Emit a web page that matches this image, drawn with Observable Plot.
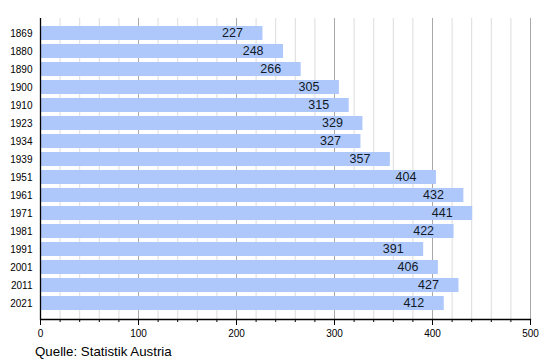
<!DOCTYPE html>
<html><head><meta charset="utf-8">
<script src="https://cdn.jsdelivr.net/npm/d3@7"></script>
<script src="https://cdn.jsdelivr.net/npm/@observablehq/plot@0.6"></script>
<style>
body{margin:0;background:#fff;font-family:"Liberation Sans",Arial,sans-serif;}
#cap{font-size:13.3px;line-height:15px;margin:4px 0 0 35px;color:#000;}
</style></head><body>
<div id="chart"></div>
<div id="cap">Quelle: Statistik Austria</div>
<script>
const years = ["1869","1880","1890","1900","1910","1923","1934","1939","1951","1961","1971","1981","1991","2001","2011","2021"];
const values = [227,248,266,305,315,329,327,357,404,432,441,422,391,406,427,412];
const minorTicks = d3.range(0, 501, 20);
const majorTicks = [0,100,200,300,400,500];
const data = years.map((y,i)=>({year:y, value:values[i]}));

const plot = Plot.plot({
  width: 550, height: 340,
  marginLeft: 40, marginRight: 20, marginTop: 18, marginBottom: 21,
  style: {fontFamily: '"Liberation Sans", Arial, sans-serif', background: "#fff"},
  x: {domain: [0, 500]},
  y: {domain: years, paddingInner: 0.2, paddingOuter: 0.1},
  marks: [
    Plot.ruleX(minorTicks.filter(d => d % 100 !== 0), {stroke: "#dcdcdc", strokeWidth: 1}),
    Plot.ruleX(majorTicks.slice(1), {stroke: "#a8a8a8", strokeWidth: 1}),
    Plot.barX(data, {x: "value", y: "year", fill: "#aec8fc"}),
    Plot.text(data, {x: "value", y: "year", text: d => String(d.value), textAnchor: "end", dx: -20, dy: -1, fontSize: 12.5, fill: "#111827"}),
    Plot.axisY({tickSize: 0, tickPadding: 8, fontSize: 10, label: null, color: "#000"}),
    Plot.axisX({ticks: minorTicks, tickSize: 3, tickFormat: () => "", label: null}),
    Plot.axisX({ticks: majorTicks, tickSize: 6, tickPadding: 4, fontSize: 10, label: null, color: "#000"}),
    Plot.ruleX([0], {stroke: "#000", strokeWidth: 1.3}),
    Plot.frame({anchor: "bottom", stroke: "#000", strokeWidth: 1.3})
  ]
});
document.getElementById("chart").appendChild(plot);
</script>
</body></html>
